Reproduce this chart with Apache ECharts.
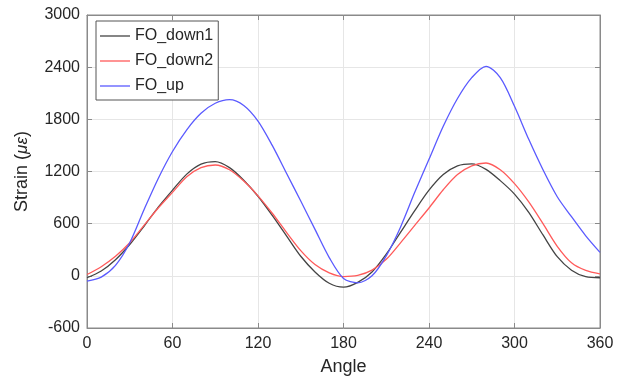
<!DOCTYPE html>
<html>
<head>
<meta charset="utf-8">
<script src="https://cdn.jsdelivr.net/npm/echarts@6/dist/echarts.min.js"></script>
<style>html,body{margin:0;padding:0;background:#fff;}#c{width:624px;height:381px;}</style>
</head>
<body>
<div id="c"></div>
<script>
const angles = [0,10,20,30,40,50,60,70,80,90,100,110,120,130,140,150,160,170,180,190,200,210,220,230,240,250,260,270,280,290,300,310,320,330,340,350,360];
const foDown1 = [-22,55,185,360,570,790,985,1170,1285,1314,1245,1100,915,695,460,225,45,-85,-130,-75,45,250,500,750,985,1165,1265,1288,1225,1095,940,730,470,220,65,-10,-22];
const foDown2 = [15,105,225,380,580,780,960,1140,1245,1275,1220,1090,920,720,500,290,130,35,-8,5,65,190,380,580,780,990,1165,1265,1298,1220,1060,850,600,340,150,62,22];
const foUp = [-60,-15,120,380,760,1120,1430,1680,1870,1985,2026,1960,1780,1500,1180,860,534,210,-30,-80,0,230,560,960,1340,1720,2040,2280,2410,2280,1950,1570,1220,910,680,460,270];
const xTicks = [0,60,120,180,240,300,360];
const yTicks = [-600,0,600,1200,1800,2400,3000];

const pairs = (ys) => angles.map((a,i)=>[a, ys[i]]);
const font = 'Liberation Sans, Arial, sans-serif';
const axisCol = '#8a8a8a';
const textCol = '#262626';
const lineIcon = 'path://M0,0H30V1.3H0Z';

const chart = echarts.init(document.getElementById('c'));
chart.setOption({
  animation: false,
  textStyle: {fontFamily: font},
  grid: {left: 87, right: 24, top: 15, bottom: 53, show: true, borderColor: axisCol, borderWidth: 1},
  legend: {
    orient: 'vertical', left: 96, top: 21,
    backgroundColor: '#fff', borderColor: '#555', borderWidth: 1,
    padding: [7, 5, 6, 4], itemWidth: 30, itemHeight: 14, itemGap: 9,
    icon: lineIcon,
    textStyle: {fontSize: 16, color: textCol, fontFamily: font},
    data: ['FO_down1','FO_down2','FO_up']
  },
  xAxis: [{
    type: 'value', min: xTicks[0], max: xTicks[xTicks.length-1], interval: 60,
    name: 'Angle', nameLocation: 'middle', nameGap: 30,
    nameTextStyle: {fontSize: 18, color: textCol, fontFamily: font},
    axisLine: {show: true, onZero: false, lineStyle: {color: axisCol}},
    axisTick: {show: true, inside: true, length: 5, lineStyle: {color: axisCol}},
    axisLabel: {fontSize: 16, color: textCol, margin: 8, fontFamily: font, formatter: (v) => String(v)},
    splitLine: {show: true, lineStyle: {color: '#e6e6e6'}}
  },{
    type: 'value', position: 'top', min: 0, max: 360, interval: 60,
    axisLine: {show: true, onZero: false, lineStyle: {color: axisCol}},
    axisTick: {show: true, inside: true, length: 5, lineStyle: {color: axisCol}},
    axisLabel: {show: false}, splitLine: {show: false}
  }],
  yAxis: [{
    type: 'value', min: yTicks[0], max: yTicks[yTicks.length-1], interval: 600,
    name: 'Strain ({i|με})', nameLocation: 'middle', nameGap: 56, nameRotate: 90,
    nameTextStyle: {fontSize: 18, color: textCol, fontFamily: font,
      rich: {i: {fontStyle: 'italic', fontSize: 17, color: textCol, fontFamily: font}}},
    axisLine: {show: true, onZero: false, lineStyle: {color: axisCol}},
    axisTick: {show: true, inside: true, length: 5, lineStyle: {color: axisCol}},
    axisLabel: {fontSize: 16, color: textCol, margin: 7, fontFamily: font, formatter: (v) => String(v)},
    splitLine: {show: true, lineStyle: {color: '#e6e6e6'}}
  },{
    type: 'value', position: 'right', min: -600, max: 3000, interval: 600,
    axisLine: {show: true, onZero: false, lineStyle: {color: axisCol}},
    axisTick: {show: true, inside: true, length: 5, lineStyle: {color: axisCol}},
    axisLabel: {show: false}, splitLine: {show: false}
  }],
  series: [
    {name: 'FO_down1', type: 'line', data: pairs(foDown1), smooth: 0.3, symbol: 'none',
     lineStyle: {color: '#444444', width: 1.3}, itemStyle: {color: '#444444'}},
    {name: 'FO_down2', type: 'line', data: pairs(foDown2), smooth: 0.3, symbol: 'none',
     lineStyle: {color: '#ff5a5a', width: 1.3}, itemStyle: {color: '#ff5a5a'}},
    {name: 'FO_up', type: 'line', data: pairs(foUp), smooth: 0.3, symbol: 'none',
     lineStyle: {color: '#5a5aff', width: 1.3}, itemStyle: {color: '#5a5aff'}}
  ]
});
</script>
</body>
</html>
